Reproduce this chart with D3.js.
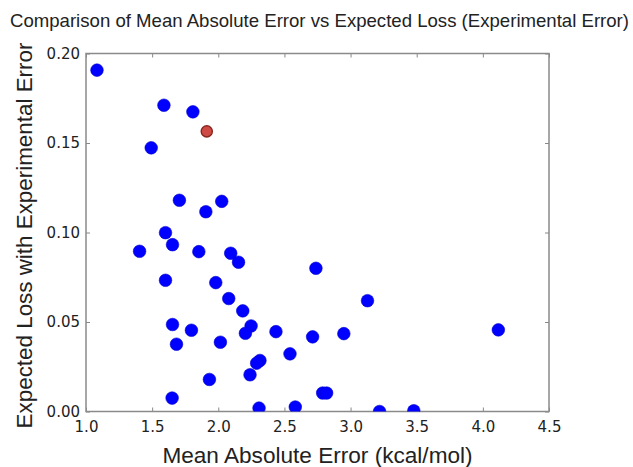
<!DOCTYPE html>
<html>
<head>
<meta charset="utf-8">
<script src="https://cdn.jsdelivr.net/npm/d3@7"></script>
<style>
  body { margin: 0; background: #fff; }
  .tick text { font-family: "DejaVu Sans", sans-serif; font-size: 15px; fill: #222; }
  .label { font-family: "Liberation Sans", Arial, sans-serif; fill: #222; }
</style>
</head>
<body>
<div id="chart"></div>
<script>
  // mean absolute error (kcal/mol) for each method
  var mae = [1.083, 1.589, 1.808, 1.493, 1.706, 1.906, 2.026, 1.601, 1.654, 1.405,
             1.853, 2.094, 2.153, 1.601, 1.981, 2.079, 2.185, 2.738, 3.128, 2.248,
             2.205, 2.436, 2.713, 2.949, 1.654, 1.797, 1.684, 2.016, 2.542, 2.315,
             2.290, 2.240, 1.933, 2.789, 2.819, 1.651, 2.308, 2.582, 3.219, 3.478,
             4.117];
  // expected loss with experimental error, same order
  var loss = [0.1907, 0.1711, 0.1674, 0.1473, 0.1180, 0.1116, 0.1174, 0.0999, 0.0932, 0.0895,
              0.0893, 0.0884, 0.0834, 0.0733, 0.0720, 0.0631, 0.0562, 0.0800, 0.0619, 0.0478,
              0.0437, 0.0446, 0.0417, 0.0435, 0.0486, 0.0454, 0.0376, 0.0387, 0.0322, 0.0285,
              0.0270, 0.0205, 0.0179, 0.0103, 0.0103, 0.0075, 0.0019, 0.0025, 0.0000, 0.0004,
              0.0456];
  // the highlighted submission
  var highlightMae = [1.913];
  var highlightLoss = [0.1565];

  var xTicks = [1.0, 1.5, 2.0, 2.5, 3.0, 3.5, 4.0, 4.5],
      yTicks = [0.00, 0.05, 0.10, 0.15, 0.20];

  var width = 633,
      height = 467,
      margin = {top: 53.5, right: 84, bottom: 55.5, left: 86};
  var plotW = width - margin.left - margin.right,
      plotH = height - margin.top - margin.bottom;

  var svg = d3.select("#chart").append("svg")
      .attr("width", width)
      .attr("height", height);

  var x = d3.scaleLinear().domain([1.0, 4.5]).range([0, plotW]);
  var y = d3.scaleLinear().domain([0, 0.2]).range([plotH, 0]);

  var g = svg.append("g")
      .attr("transform", "translate(" + margin.left + "," + margin.top + ")");

  g.append("clipPath").attr("id", "clip")
    .append("rect").attr("width", plotW).attr("height", plotH);

  // inward ticks on all four sides, like the old matplotlib default
  var tickLen = 4;
  g.append("g")
      .attr("transform", "translate(0," + plotH + ")")
      .call(d3.axisBottom(x).tickValues(xTicks).tickFormat(d3.format(".1f"))
        .tickSizeInner(-tickLen).tickSizeOuter(0).tickPadding(10))
      .call(function(s) { s.select(".domain").remove(); });
  g.append("g")
      .call(d3.axisTop(x).tickValues(xTicks).tickFormat("")
        .tickSizeInner(-tickLen).tickSizeOuter(0))
      .call(function(s) { s.select(".domain").remove(); });
  g.append("g")
      .call(d3.axisLeft(y).tickValues(yTicks).tickFormat(d3.format(".2f"))
        .tickSizeInner(-tickLen).tickSizeOuter(0).tickPadding(6))
      .call(function(s) { s.select(".domain").remove(); });
  g.append("g")
      .attr("transform", "translate(" + plotW + ",0)")
      .call(d3.axisRight(y).tickValues(yTicks).tickFormat("")
        .tickSizeInner(-tickLen).tickSizeOuter(0))
      .call(function(s) { s.select(".domain").remove(); });

  g.selectAll(".tick line").attr("stroke", "#888").attr("stroke-width", 1);

  g.append("rect")
      .attr("width", plotW)
      .attr("height", plotH)
      .attr("fill", "none")
      .attr("stroke", "#8a8a8a")
      .attr("stroke-width", 1.5);

  var pts = g.append("g").attr("clip-path", "url(#clip)");

  pts.selectAll(".dot")
      .data(d3.range(mae.length))
      .enter().append("circle")
      .attr("class", "dot")
      .attr("cx", function(i) { return x(mae[i]); })
      .attr("cy", function(i) { return y(loss[i]); })
      .attr("r", 6.3)
      .attr("fill", "#0000ff")
      .attr("stroke", "#0000d0")
      .attr("stroke-width", 0.6);

  pts.selectAll(".hl")
      .data(d3.range(highlightMae.length))
      .enter().append("circle")
      .attr("class", "hl")
      .attr("cx", function(i) { return x(highlightMae[i]); })
      .attr("cy", function(i) { return y(highlightLoss[i]); })
      .attr("r", 5.6)
      .attr("fill", "#cf4a44")
      .attr("stroke", "#862822")
      .attr("stroke-width", 1.4);

  svg.append("text")
      .attr("class", "label")
      .attr("x", margin.left + plotW / 2 + 2)
      .attr("y", 27)
      .attr("text-anchor", "middle")
      .style("font-size", "18.6px")
      .text("Comparison of Mean Absolute Error vs Expected Loss (Experimental Error)");

  svg.append("text")
      .attr("class", "label")
      .attr("x", margin.left + plotW / 2)
      .attr("y", 463)
      .attr("text-anchor", "middle")
      .style("font-size", "22.6px")
      .text("Mean Absolute Error (kcal/mol)");

  svg.append("text")
      .attr("class", "label")
      .attr("transform", "translate(32," + (margin.top + plotH / 2 + 3) + ") rotate(-90)")
      .attr("text-anchor", "middle")
      .style("font-size", "22.4px")
      .text("Expected Loss with Experimental Error");
</script>
</body>
</html>
